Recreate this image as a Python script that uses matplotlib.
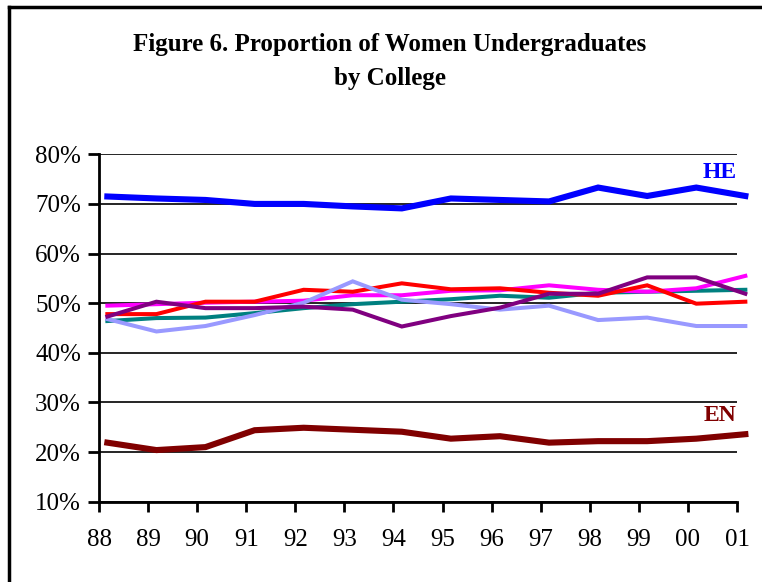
import matplotlib
matplotlib.use("Agg")
import matplotlib.pyplot as plt
from matplotlib.lines import Line2D

years = ["88", "89", "90", "91", "92", "93", "94", "95", "96", "97", "98", "99", "00", "01"]
x_offset = 0.17

he = [71.5, 71.1, 70.8, 70.0, 70.0, 69.5, 69.1, 71.1, 70.8, 70.5, 73.3, 71.6, 73.3, 71.6]
en = [21.9, 20.4, 21.0, 24.4, 24.9, 24.5, 24.1, 22.7, 23.2, 21.9, 22.2, 22.2, 22.7, 23.6]
red = [47.8, 47.8, 50.3, 50.3, 52.7, 52.3, 54.0, 52.8, 53.0, 52.1, 51.5, 53.6, 49.9, 50.3]
magenta = [49.5, 49.8, 50.1, 50.3, 50.5, 51.6, 51.6, 52.5, 52.6, 53.6, 52.7, 52.3, 53.0, 55.5]
teal = [46.4, 47.0, 47.1, 48.0, 49.0, 49.8, 50.3, 50.8, 51.5, 51.1, 52.1, 52.3, 52.5, 52.7]
lavender = [46.8, 44.3, 45.4, 47.6, 50.1, 54.4, 50.7, 49.8, 48.7, 49.5, 46.6, 47.1, 45.4, 45.4]
purple = [47.3, 50.3, 49.0, 49.0, 49.3, 48.7, 45.3, 47.4, 49.1, 51.9, 51.9, 55.2, 55.2, 51.9]

yticks = [10, 20, 30, 40, 50, 60, 70, 80]
ytick_labels = ["10%", "20%", "30%", "40%", "50%", "60%", "70%", "80%"]

plt.rcParams['font.family'] = ['Liberation Serif', 'DejaVu Serif']

fig = plt.figure(figsize=(7.62, 5.82), dpi=100)
ax = fig.add_axes([99/762, 1-501.7/582, (737-99)/762, (501.7-154.3)/582])

xs = [i + x_offset for i in range(len(years))]

thin = 2.9
thick = 4.4
series = [
    (teal, "#008080", thin),
    (magenta, "#FF00FF", thin),
    (red, "#FF0000", thin),
    (lavender, "#9999FF", thin),
    (purple, "#800080", thin),
    (he, "#0000FF", thick),
    (en, "#800000", thick),
]
for vals, col, lw in series:
    ax.plot(xs, vals, color=col, lw=lw, clip_on=False, solid_joinstyle='miter', zorder=3)

ax.set_xlim(0, len(years) - 1)
ax.set_ylim(10, 80)
ax.set_yticks(yticks)
ax.set_yticklabels(ytick_labels, fontsize=18)
ax.set_xticks(range(len(years)))
ax.set_xticklabels(years, fontsize=18)
ax.tick_params(axis='y', direction='out', length=8, width=2, pad=5)
ax.tick_params(axis='x', direction='out', length=7, width=2, pad=13)

for s in ['top', 'right']:
    ax.spines[s].set_visible(False)
for s in ['left', 'bottom']:
    ax.spines[s].set_linewidth(2)
ax.grid(axis='y', color='black', lw=1.2, zorder=1)
ax.set_axisbelow(True)

ax.text(12.48 + x_offset, 76.4, "HE", color="#0000FF", fontsize=17, fontweight='bold',
        ha='center', va='center')
ax.text(12.48 + x_offset, 27.3, "EN", color="#800000", fontsize=17, fontweight='bold',
        ha='center', va='center')

fig.text(390/762, 1-45/582, "Figure 6. Proportion of Women Undergraduates",
         ha='center', va='center', fontsize=18, fontweight='bold')
fig.text(390/762, 1-78/582, "by College",
         ha='center', va='center', fontsize=18, fontweight='bold')

# frame lines (top and left)
fig.add_artist(Line2D([9/762, 1], [1-7/582, 1-7/582], color='black', lw=2.5,
                      transform=fig.transFigure))
fig.add_artist(Line2D([9/762, 9/762], [0, 1-7/582], color='black', lw=2.5,
                      transform=fig.transFigure))

fig.savefig("out.png", dpi=100)
